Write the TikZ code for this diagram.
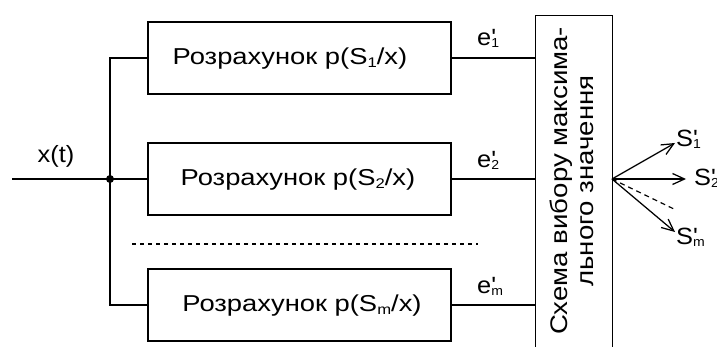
\documentclass[tikz,border=0pt]{standalone}
\usepackage{fontspec}
\setmainfont{Liberation Sans}[Ligatures=TeXOff]
\newfontfamily\boxfont{Liberation Sans}[FakeStretch=1.19,Ligatures=TeXOff]
\newfontfamily\rotfont{Liberation Sans}[FakeStretch=1.15,Ligatures=TeXOff]
\newfontfamily\lblfont{Liberation Sans}[FakeStretch=1.08,Ligatures=TeXOff]
\usetikzlibrary{arrows.meta}
\newcommand\smallfnt{\fontsize{13}{13}\selectfont}
\newcommand\pss[2]{#1\rlap{\char"27}{\smallfnt\raisebox{-2pt}{#2}}}
\newcommand\sbs[1]{\raisebox{-2.5pt}{\fontsize{14}{14}\selectfont #1}}
\begin{document}
\begin{tikzpicture}[x=1pt,y=-1pt,
  wire/.style={line width=1.25pt},
  blk/.style={draw,line width=1.25pt,minimum width=303pt,minimum height=72pt,inner sep=0pt},
  btxt/.style={font=\boxfont\fontsize{23}{23}\selectfont,inner sep=0pt},
  lbl/.style={font=\lblfont\fontsize{23.5}{23.5}\selectfont,inner sep=0pt},
  arr/.style={line width=1.25pt,-{Straight Barb[length=12pt,width=11pt,line width=1.25pt]}},
  dsh/.style={line width=1.1pt,dash pattern=on 4pt off 4pt}]
\clip (0,0) rectangle (717,347);
\useasboundingbox (0,0) rectangle (717,347);
% blocks
\node[blk] (b1) at (299.5,58) {};
\node[blk] (b2) at (299.5,179) {};
\node[blk] (b3) at (299.5,305) {};
\node[btxt] (t1) at (290,59) {Розрахунок p(S\sbs{1}/x)};
\node[btxt] (t2) at (298,180) {Розрахунок p(S\sbs{2}/x)};
\node[btxt] (t3) at (302,306) {Розрахунок p(S\sbs{m}/x)};
% big box
\node[draw,line width=1.25pt,minimum width=77pt,minimum height=350pt,inner sep=0pt,anchor=north west] (big) at (535,15) {};
\node[font=\rotfont\fontsize{24}{25.5}\selectfont,align=center,rotate=90,inner sep=0pt] (bt) at (572,181) {Схема вибору максима-\\льного значення};
% input and bus
\coordinate (in) at (12,179);
\coordinate (j) at (110,179);
\coordinate (bt1) at (110,58);
\coordinate (bt3) at (110,305);
\draw[wire] (in) -- (j);
\draw[wire] (b1.west) -- (bt1) -- (bt3) -- (b3.west);
\draw[wire] (j) -- (b2.west);
\fill (j) circle (4pt);
\node[lbl] (xt) at (56,156) {x(t)};
% outputs of blocks
\draw[wire] (b1.east) -- (big.west |- b1.east);
\draw[wire] (b2.east) -- (big.west |- b2.east);
\draw[wire] (b3.east) -- (big.west |- b3.east);
\node[lbl,anchor=west] (e1) at (477,38) {\pss{e}{1}};
\node[lbl,anchor=west] (e2) at (477,160) {\pss{e}{2}};
\node[lbl,anchor=west] (em) at (477,286) {\pss{e}{m}};
% dashed separator
\coordinate (d1) at (132,244);
\coordinate (d2) at (478,244);
\draw[dsh] (d1) -- (d2);
% outputs
\coordinate (o) at (612,179);
\coordinate (a1) at (675,143);
\coordinate (a2) at (686,179);
\coordinate (am) at (675,232);
\coordinate (ad) at (676,210);
\draw[arr] (o) -- (a1);
\draw[arr] (o) -- (a2);
\draw[arr] (o) -- (am);
\draw[line width=1.2pt,dash pattern=on 5pt off 4pt] (o) -- (ad);
\node[lbl,anchor=west] (s1) at (676,139) {\pss{S}{1}};
\node[lbl,anchor=west] (s2) at (694,178) {\pss{S}{2}};
\node[lbl,anchor=west] (sm) at (676,237) {\pss{S}{m}};
\end{tikzpicture}
\end{document}
